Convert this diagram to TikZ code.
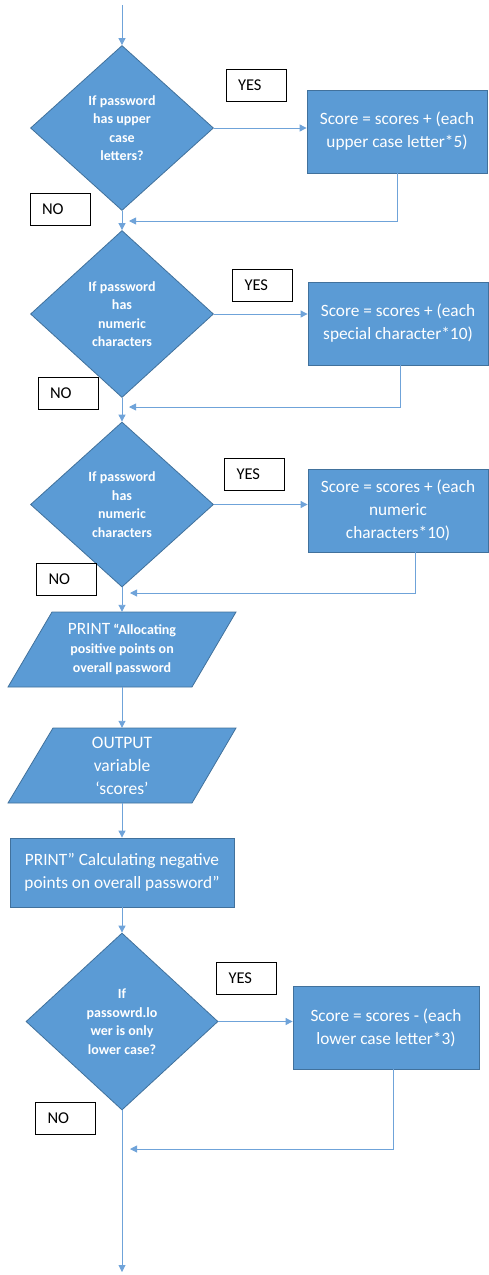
\documentclass[tikz,border=0pt]{standalone}
\usepackage{fontspec}
\setmainfont{Carlito}
\usetikzlibrary{shapes.geometric,arrows.meta}
\definecolor{fillblue}{HTML}{5B9BD5}
\definecolor{edgeblue}{HTML}{41719C}
\definecolor{lineblue}{HTML}{6FA3D9}
\begin{document}
\begin{tikzpicture}[x=1pt,y=-1pt,
  decision/.style={diamond, draw=edgeblue, fill=fillblue, line width=0.8pt, inner sep=0pt, text=white, align=center, font=\bfseries\fontsize{14}{18.5}\selectfont},
  process/.style={rectangle, draw=edgeblue, fill=fillblue, line width=0.8pt, inner sep=2pt, text=white, align=center, font=\fontsize{17.3}{23}\selectfont},
  parashape/.style={draw=edgeblue, fill=fillblue, line width=0.8pt},
  paratext/.style={inner sep=0pt, text=white, align=center, minimum height=75pt},
  tagbox/.style={rectangle, draw=black, fill=white, line width=0.8pt, minimum height=32pt, text width=36pt, inner xsep=12pt, inner ysep=0pt, align=left, font=\fontsize{16.5}{20}\selectfont},
  flow/.style={draw=lineblue, line width=0.9pt, -{Triangle[width=7pt,length=7pt]}},
]
\useasboundingbox (0,0) rectangle (488,1275);

% ---- decision 1
\node[decision, minimum width=183pt, minimum height=165pt] (d1) at (122,128) {If password\\has upper\\case\\letters?};
\node[process, minimum width=180pt, minimum height=83pt] (b1) at (397,131.5) {Score = scores + (each\\upper case letter*5)};
\node[tagbox] (yes1) at (256,85) {YES};
\node[tagbox] (no1) at (60,209) {NO};

% ---- decision 2
\node[decision, minimum width=183pt, minimum height=167pt] (d2) at (122,314) {If password\\has\\numeric\\characters};
\node[process, minimum width=180pt, minimum height=83pt] (b2) at (398,323.5) {Score = scores + (each\\special character*10)};
\node[tagbox] (yes2) at (262.5,285) {YES};
\node[tagbox] (no2) at (68,393) {NO};

% ---- decision 3
\node[decision, minimum width=183pt, minimum height=165pt] (d3) at (122,504.5) {If password\\has\\numeric\\characters};
\node[process, minimum width=180pt, minimum height=83pt] (b3) at (398,510.5) {Score = scores + (each\\numeric\\characters*10)};
\node[tagbox] (yes3) at (254.5,474) {YES};
\node[tagbox] (no3) at (66.5,579) {NO};

% ---- parallelogram 1
\filldraw[parashape] (52,612) -- (236,612) -- (192,687) -- (8,687) -- cycle;
\node[paratext, font=\bfseries\fontsize{14}{19}\selectfont] (p1) at (122,649.5) {{\mdseries\fontsize{17.3}{19}\selectfont PRINT} “Allocating\\positive points on\\overall password};

% ---- parallelogram 2
\filldraw[parashape] (53,728) -- (236,728) -- (192,803) -- (8,803) -- cycle;
\node[paratext, font=\fontsize{17.5}{23}\selectfont] (p2) at (122,765.5) {OUTPUT\\variable\\‘scores’};

% ---- print box
\node[process, minimum width=224pt, minimum height=69pt] (r1) at (122,872.5) {PRINT” Calculating negative\\points on overall password”};

% ---- decision 4
\node[decision, minimum width=192pt, minimum height=177pt] (d4) at (122,1021.5) {If\\passowrd.lo\\wer is only\\lower case?};
\node[process, minimum width=186pt, minimum height=83pt] (b4) at (386,1027.5) {Score = scores - (each\\lower case letter*3)};
\node[tagbox] (yes4) at (246.5,978) {YES};
\node[tagbox] (no4) at (65.5,1118) {NO};

% ---- coordinates
\coordinate (start) at (122,5);
\coordinate (j1) at (129,221);
\coordinate (j2) at (129,407);
\coordinate (j3) at (130,593);
\coordinate (j4) at (130,1149);
\coordinate (finish) at (122,1272);

% ---- connectors
\draw[flow] (start) -- (d1.north);
\draw[flow] (d1.east) -- (d1.east -| b1.west);
\draw[flow] (b1.south) |- (j1);
\draw[flow] (d1.south) -- (d2.north);

\draw[flow] (d2.east) -- (d2.east -| b2.west);
\draw[flow] ([xshift=2pt]b2.south) |- (j2);
\draw[flow] (d2.south) -- (d3.north);

\draw[flow] (d3.east) -- (d3.east -| b3.west);
\draw[flow] ([xshift=17pt]b3.south) |- (j3);
\draw[flow] (d3.south) -- (p1.north);

\draw[flow] (p1.south) -- (p2.north);
\draw[flow] (p2.south) -- (r1.north);
\draw[flow] (r1.south) -- (d4.north);

\draw[flow] (d4.east) -- (d4.east -| b4.west);
\draw[flow] ([xshift=7pt]b4.south) |- (j4);
\draw[flow] (d4.south) -- (finish);
\end{tikzpicture}
\end{document}
